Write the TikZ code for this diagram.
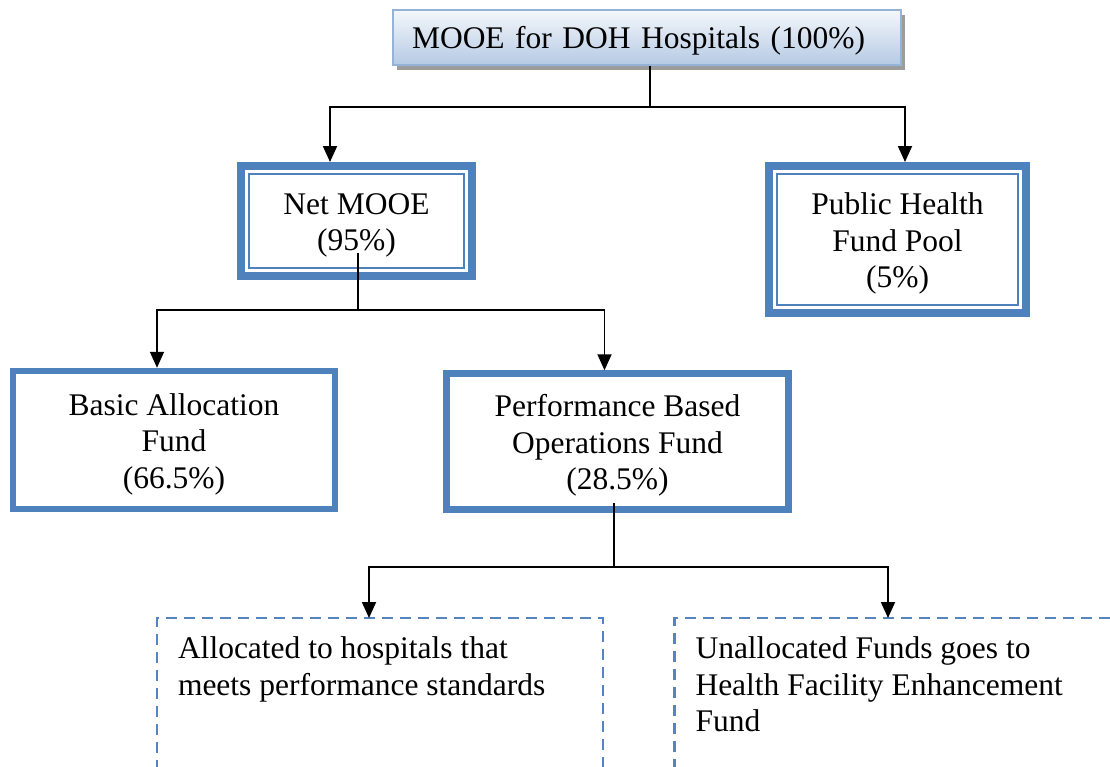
\documentclass[tikz,border=0pt]{standalone}
\usepackage{fontspec}
\setmainfont{Liberation Serif}
\usetikzlibrary{arrows.meta,shadows,calc}

\definecolor{boxblue}{HTML}{4F81BD}
\definecolor{dashblue}{HTML}{5585C0}
\definecolor{topline}{HTML}{95B3D7}
\definecolor{topshadeA}{HTML}{F4F7FB}
\definecolor{topshadeB}{HTML}{B5CAE4}
\definecolor{shadowgray}{HTML}{9C9C9C}

% extra room above the first line of a box label
\newcommand{\boxstrut}[1]{\rule{0pt}{#1}}

\begin{document}
\begin{tikzpicture}[x=1pt,y=-1pt,
  every node/.style={font=\fontsize{31.5}{36.5}\selectfont, inner sep=0pt},
  topbox/.style={draw=topline, line width=2pt, outer sep=1pt,
    top color=topshadeA, bottom color=topshadeB,
    drop shadow={shadow xshift=4pt, shadow yshift=-5pt, fill=shadowgray, opacity=1},
    minimum width=508pt, minimum height=55pt,
    text width=470pt, inner xsep=19pt, align=left},
  dblbox/.style={draw=boxblue, line width=8pt, outer sep=4pt, fill=white, align=center},
  framebox/.style={draw=boxblue, line width=6.5pt, outer sep=3.25pt, fill=white, align=center},
  innerline/.style={draw=boxblue, line width=2pt},
  notebox/.style={draw=dashblue, line width=2.8pt, dash pattern=on 11pt off 7pt,
    outer sep=0pt, anchor=north west, inner xsep=21pt, inner ysep=19pt},
  link/.style={line width=1.8pt},
  conn/.style={line width=1.8pt, -{Triangle[length=16pt,width=14pt]}}
]
\useasboundingbox (0,0) rectangle (1110,766);
\fill[white] (0,0) rectangle (1110,766);
\clip (0,0) rectangle (1110,766);

% boxes
\node[topbox] (top) at (647,37.5) {\boxstrut{28pt}MOOE for DOH Hospitals (100\%)};

\node[dblbox, minimum width=231pt, minimum height=110pt] (net) at (356.5,221)
  {\boxstrut{30pt}Net MOOE\\(95\%)};
\node[dblbox, minimum width=257pt, minimum height=147pt] (pool) at (897.5,239.5)
  {\boxstrut{30pt}Public Health\\Fund Pool\\(5\%)};
\draw[innerline] ($(net.north west)+(12,12)$) rectangle ($(net.south east)+(-12,-12)$);
\draw[innerline] ($(pool.north west)+(12,12)$) rectangle ($(pool.south east)+(-12,-12)$);

\node[framebox, minimum width=322pt, minimum height=138pt] (basic) at (174,440)
  {\boxstrut{30pt}Basic Allocation\\Fund\\(66.5\%)};
\node[framebox, minimum width=342pt, minimum height=136pt] (perf) at (617.5,441.5)
  {\boxstrut{30pt}Performance Based\\Operations Fund\\(28.5\%)};

\node[notebox] (alloc) at (157,618)
  {\parbox[t][116pt][t]{404pt}{Allocated to hospitals that\\meets performance standards}};
\node[notebox] (unalloc) at (674.5,618)
  {\parbox[t][116pt][t]{413.5pt}{Unallocated Funds goes to\\Health Facility Enhancement\\Fund}};

% connectors
\draw[link] ([xshift=3pt]top.south) -- ++(0,41) coordinate (j0);
\draw[conn] (j0) -| ([xshift=-26.5pt]net.north);
\draw[conn] (j0) -| ([xshift=7.5pt]pool.north);

\draw[link] ([xshift=1.5pt,yshift=27pt]net.south) -- ++(0,57) coordinate (j1);
\draw[conn] (j1) -| ([xshift=-17pt]basic.north);
\draw[conn] (j1) -| ([xshift=-13pt]perf.north);

\draw[link] ([xshift=-3.5pt,yshift=10pt]perf.south) -- ++(0,64) coordinate (j2);
\draw[conn] (j2) -| ([xshift=-11pt]alloc.north);
\draw[conn] (j2) -| ([xshift=213.5pt]unalloc.north west);
\end{tikzpicture}
\end{document}
